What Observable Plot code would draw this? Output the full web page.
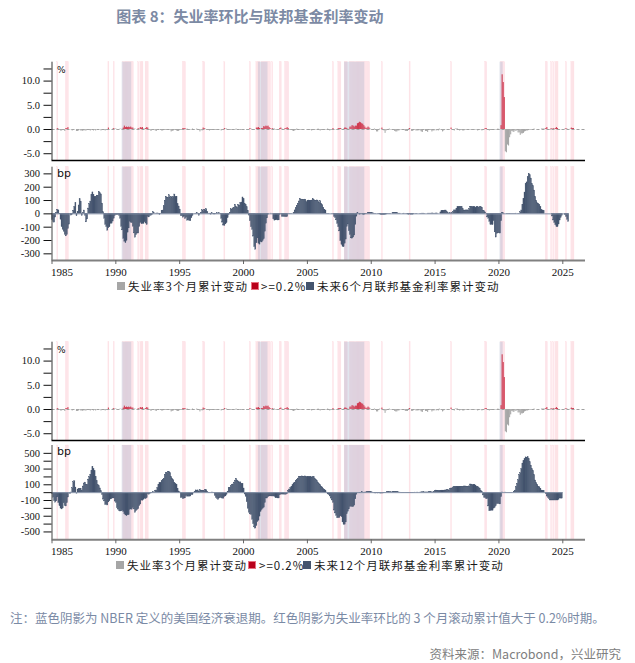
<!DOCTYPE html>
<html><head><meta charset="utf-8">
<script src="https://cdn.jsdelivr.net/npm/d3@7"></script>
<script src="https://cdn.jsdelivr.net/npm/@observablehq/plot@0.6"></script>
<style>
body{margin:0;background:#fff;}
#root{position:relative;width:635px;height:663px;overflow:hidden;font-family:"Noto Sans CJK SC","Noto Sans",sans-serif;background:#fff;}
#root svg{position:absolute;left:0;background:transparent;}
.title{position:absolute;left:0;width:500px;top:6px;line-height:20px;text-align:center;font-size:15px;font-weight:bold;color:#7c8aa4;}
.lg{position:absolute;font-size:11.5px;letter-spacing:1px;color:#1a1a1a;line-height:16px;white-space:nowrap;}
.sw{position:absolute;width:8px;height:8px;box-sizing:border-box;}
.note{position:absolute;left:10px;top:610px;line-height:16px;font-size:12.5px;color:#7a8aa5;white-space:nowrap;}
.src{position:absolute;right:14px;top:646px;line-height:16px;font-size:12.5px;color:#808080;white-space:nowrap;}
</style></head><body><div id="root"></div>
<script>
// ---------- data ----------
const startYear = 1985;
// unemployment rate, 3-month cumulative change (pp), monthly from Jan 1985
const ur3m = [
-0.1,0,-0.1,0,0,0.2,0.1,-0.1,-0.3,-0.3,-0.1,-0.1,
-0.4,0.2,0.2,0.4,0,0,-0.1,-0.3,-0.2,0,0,-0.4,
-0.4,-0.3,0,-0.3,-0.3,-0.4,-0.2,-0.3,-0.3,-0.1,-0.2,-0.2,
-0.3,-0.1,0,-0.3,-0.1,-0.3,0,0,0,0,-0.3,-0.1,
0,-0.1,-0.3,-0.2,0,0.3,0,0,0,0.1,0.2,0.1,
0.1,-0.1,-0.2,0,0.1,0,0.1,0.3,0.7,0.4,0.5,0.4,
0.5,0.4,0.5,0.3,0.3,0.1,0.1,0,0,0.2,0.1,0.4,
0.3,0.4,0.1,0.1,0.2,0.4,0.3,0,-0.2,-0.4,-0.2,-0.2,
0,-0.3,-0.4,-0.2,0,0,-0.2,-0.3,-0.3,-0.1,-0.2,-0.2,
-0.2,0,0,-0.2,-0.5,-0.4,-0.3,-0.1,-0.2,-0.3,-0.4,-0.4,
-0.2,-0.2,-0.1,0.2,0.2,0.2,-0.1,0.1,0,-0.2,-0.1,0,
0.1,-0.1,-0.1,0,0.1,-0.2,-0.1,-0.5,-0.1,-0.3,0.3,0.2,
0.1,-0.2,-0.2,-0.2,-0.3,-0.2,-0.2,-0.1,-0.1,-0.2,-0.2,-0.2,
-0.1,0,0,-0.3,-0.2,-0.2,0.2,0.1,0.1,0,-0.1,-0.2,
-0.2,0,-0.2,0,-0.2,0.1,0,0,-0.1,-0.2,-0.1,-0.2,
-0.1,0,0,-0.2,-0.1,0,0.2,0.1,-0.1,-0.1,-0.2,0,
0.3,0.3,0.4,0.2,0.1,0.2,0.2,0.6,0.5,0.7,0.6,0.7,
0.4,0.2,0,0.2,0.1,0.1,-0.1,-0.1,-0.1,-0.1,0.2,0.3,
0.1,0,-0.1,0.2,0.2,0.4,0.2,0,-0.2,-0.2,-0.3,-0.4,
-0.3,-0.2,0.1,-0.1,0,-0.2,-0.1,-0.2,-0.2,0,0,0,
-0.2,0,-0.2,-0.1,-0.3,-0.2,-0.2,-0.2,0,0,0.1,-0.1,
-0.3,-0.2,-0.2,0,-0.2,-0.1,0,0.1,-0.1,-0.3,-0.2,-0.1,
0.2,0,0,-0.1,-0.1,0.2,0.2,0.2,0.1,0,0.1,0.3,
0.3,0.2,0.1,0,0.5,0.5,0.8,0.7,0.5,0.7,0.7,1.2,
1.3,1.5,1.4,1.2,1.1,0.8,0.5,0.2,0.3,0.5,0.3,0.1,
-0.2,-0.1,0,0.1,-0.2,-0.5,-0.5,-0.1,0.1,0,0.3,-0.2,
-0.3,-0.8,-0.3,0,0,0.1,-0.1,0,-0.1,-0.2,-0.4,-0.5,
-0.5,-0.3,-0.3,-0.1,-0.1,0,0,-0.1,-0.4,-0.4,-0.4,0.1,
0.2,0,-0.4,-0.4,-0.2,0,-0.3,-0.3,-0.3,-0.1,-0.3,-0.5,
-0.6,-0.2,0,-0.4,-0.4,-0.6,0,-0.2,-0.2,-0.5,-0.3,-0.3,
0,-0.3,-0.2,-0.3,0.1,-0.1,-0.2,-0.5,-0.3,-0.2,0,0,
-0.2,-0.2,0,0.3,-0.1,-0.1,-0.3,0.1,0.1,0.1,-0.2,-0.3,
-0.2,-0.1,-0.3,-0.3,-0.2,-0.1,-0.1,0,0,-0.1,-0.2,-0.2,
-0.2,-0.1,-0.1,0,-0.3,0,-0.2,0,-0.3,0,0,0.2,
0.2,0,-0.1,-0.3,-0.2,-0.2,0,0,-0.1,-0.1,0,0.1,
-0.1,-0.1,0.8,11.3,9.7,6.6,-4.6,-4.8,-3.2,-3.4,-1.7,-1.1,
-0.4,-0.5,-0.6,-0.3,-0.4,-0.2,-0.7,-0.7,-1.2,-0.9,-0.9,-0.8,
-0.5,-0.4,-0.3,-0.3,-0.2,0,-0.2,0,-0.1,0.1,0,0,
-0.2,0,0,0,0.1,0.1,0.1,0.1,0.2,0.4,-0.1,0,
-0.2,0.2,0.1,0.2,0.1,0.2,0.4,0.2,0,-0.2,0,0,
-0.1,-0.1,0.1,0.2,0.1,-0.1,0,0.1,0.3,0.2,0.2,0
];
// fed funds rate, cumulative change over the next 6 months (bp), monthly from Jan 1985
const ff6m = [
-47,-60,-66,-28,8,30,26,-4,-44,-100,-120,-135,
-158,-169,-159,-114,-81,-1,-13,-7,24,52,81,-18,
15,63,109,92,-16,4,25,-15,-64,-42,40,74,
92,143,161,143,126,125,137,135,166,154,146,77,
12,-37,-83,-100,-126,-108,-101,-75,-74,-58,-37,-16,
-8,-11,-8,-15,-37,-98,-124,-188,-208,-220,-203,-141,
-109,-59,-67,-70,-97,-147,-179,-160,-147,-148,-99,-67,
-78,-76,-76,-63,-73,-84,-23,-27,-15,-14,-9,12,
4,0,2,3,2,-8,-1,22,25,57,99,129,
121,122,139,120,128,120,127,145,125,129,72,55,
32,-18,-18,-29,-21,-40,-29,-52,-49,-54,-56,-33,
-16,0,-1,2,7,2,-15,-3,9,27,19,27,
27,35,15,-1,2,-6,4,-3,-5,-5,-3,6,
-2,4,2,-38,-66,-88,-91,-79,-70,-33,-9,8,
36,31,41,46,68,54,46,66,63,82,85,123,
109,77,67,49,24,-13,-56,-101,-121,-171,-250,-270,
-221,-184,-224,-231,-212,-215,-204,-191,-134,-74,-34,-7,
0,0,2,0,-41,-51,-49,-48,-50,-49,-8,-2,
-23,-23,-24,-25,-26,-24,-1,-2,-1,-1,0,5,
26,42,61,76,93,113,102,107,102,103,107,88,
98,100,99,99,100,112,103,99,97,101,94,83,
95,76,66,46,31,25,1,1,1,0,0,1,
1,-24,-32,-49,-76,-101,-132,-204,-233,-248,-251,-224,
-193,-98,-80,-131,-159,-184,-186,-178,-163,-82,-21,5,
1,-6,-3,-3,-6,-9,-5,-3,1,8,8,6,
7,6,3,-1,-1,0,-1,-3,-5,-9,-10,-9,
-10,-6,-6,-3,-1,-2,1,0,5,7,8,9,
8,3,1,2,0,0,-2,2,0,-1,-5,-7,
-5,-7,-6,-6,-3,0,-2,-1,0,0,1,1,
2,2,1,0,0,2,2,2,2,3,3,1,
2,3,3,0,0,11,21,24,22,25,25,14,
5,2,4,3,4,16,26,26,39,50,50,50,
50,50,36,25,25,26,26,26,36,54,54,52,
50,49,44,50,50,45,49,49,46,23,19,11,
0,-27,-37,-59,-84,-83,-85,-55,-139,-178,-150,-147,
-146,-148,-56,4,4,1,0,-2,-2,-2,-3,-1,
1,1,1,1,2,0,-2,-1,12,25,69,113,
160,225,236,275,301,289,265,224,209,175,128,98,
79,76,68,50,27,25,21,0,0,0,0,0,
0,0,-20,-50,-69,-85,-100,-100,-80,-50,-31,-15,
0,0,-11,-24,-45,-61
];
// fed funds rate, cumulative change over the next 12 months (bp), monthly from Jan 1985
const ff12m = [
-21,-64,-110,-128,-112,-61,-132,-173,-203,-214,-201,-136,
-171,-176,-135,-62,0,-19,2,56,133,144,65,-14,
40,48,45,50,24,78,117,128,97,101,166,199,
229,278,327,297,272,202,149,98,83,54,20,-31,
-89,-112,-157,-158,-163,-124,-109,-86,-82,-73,-74,-114,
-132,-199,-216,-235,-240,-239,-233,-247,-275,-290,-300,-288,
-288,-219,-214,-218,-196,-214,-257,-236,-223,-211,-172,-151,
-101,-103,-91,-77,-82,-72,-19,-27,-13,-11,-7,4,
3,22,27,60,101,121,120,144,164,177,227,249,
248,267,264,249,200,175,159,127,107,100,51,15,
3,-70,-67,-83,-77,-73,-45,-52,-50,-52,-49,-31,
-31,-3,8,29,26,29,12,32,24,26,21,21,
31,32,10,-6,-1,0,2,1,-3,-43,-69,-82,
-93,-75,-68,-71,-75,-80,-55,-48,-29,13,59,62,
82,97,104,128,153,177,155,143,130,131,109,110,
53,-24,-54,-122,-206,-256,-277,-285,-345,-402,-442,-458,
-425,-375,-358,-305,-246,-222,-204,-191,-132,-74,-75,-58,
-49,-48,-48,-49,-49,-53,-72,-71,-74,-74,-34,-26,
-24,-25,-25,-26,-26,-19,25,40,60,75,93,118,
128,149,163,179,200,201,200,207,201,202,207,200,
201,199,196,200,194,195,198,175,163,147,125,108,
96,77,67,46,31,26,2,-23,-31,-49,-76,-100,
-131,-228,-265,-297,-327,-325,-325,-302,-313,-379,-410,-408,
-379,-276,-243,-213,-180,-179,-185,-184,-166,-85,-27,-4,
-4,-9,-2,5,2,-3,2,3,4,7,7,6,
6,3,-2,-10,-11,-9,-11,-9,-11,-12,-11,-11,
-9,-6,-1,4,7,7,9,3,6,9,8,9,
6,5,1,1,-5,-7,-7,-5,-6,-7,-8,-7,
-7,-8,-6,-6,-2,1,0,1,1,0,1,3,
4,4,3,3,3,3,4,5,5,3,3,12,
23,27,25,25,25,25,26,26,26,28,29,30,
31,28,43,53,54,66,76,76,75,75,75,76,
76,76,72,79,79,78,76,75,80,104,104,97,
99,98,90,73,69,56,49,22,9,-36,-65,-72,
-85,-82,-176,-237,-234,-230,-231,-203,-195,-174,-146,-146,
-146,-150,-58,2,1,0,1,-1,-1,-1,-1,-1,
-1,0,13,26,71,113,158,224,248,300,370,402,
425,449,445,450,429,387,344,300,277,225,155,123,
100,76,68,50,27,25,21,0,-20,-50,-69,-85,
-100,-100,-100,-100,-100,-100,-100,-100,-91,-74,-76,-76
];
// NBER recessions (first month, last month)
const recessions = [["1990-07","1991-03"],["2001-03","2001-11"],["2007-12","2009-06"],["2020-02","2020-04"]];
const yearTicks = [1985,1990,1995,2000,2005,2010,2015,2020,2025];
const urTicks = [-5,-2.5,0,2.5,5,7.5,10,12.5];
const ff6Ticks = [-300,-200,-100,0,100,200,300];
const ff12Ticks = [-500,-400,-300,-200,-100,0,100,200,300,400,500];
const redThreshold = 0.2;

// ---------- helpers ----------
const mdate = i => new Date(Date.UTC(startYear, i, 1));
const toRows = arr => arr.map((v, i) => ({d: mdate(i), d2: mdate(i + 1), v}));
const urData = toRows(ur3m), ff6Data = toRows(ff6m), ff12Data = toRows(ff12m);
const recData = recessions.map(([a, b]) => {
  const [ya, ma] = a.split("-").map(Number), [yb, mb] = b.split("-").map(Number);
  return {s: new Date(Date.UTC(ya, ma - 1, 1)), e: new Date(Date.UTC(yb, mb, 1))};
});
const yearDates = yearTicks.map(y => new Date(Date.UTC(y, 0, 1)));
const X0 = new Date(Date.UTC(1985, 0, 1)), X1 = new Date(Date.UTC(2026, 9, 12));
const W = 635, ML = 51.5, MR = 50;
const RED = "#d03a50", GRAY = "#a6a6a6", NAVY = "#44546e", PINK = "#fde2e6", REC = "#a3afc9";
const SERIF = "Liberation Serif, serif", SANS = "DejaVu Sans, sans-serif";
const root = document.getElementById("root");

function shading() {
  return [
    Plot.rect(urData.filter(d => d.v >= redThreshold), {x1: "d", x2: "d2", fill: PINK, stroke: PINK, strokeWidth: 0.3}),
    Plot.rect(recData, {x1: "s", x2: "e", fill: REC, fillOpacity: 0.32})
  ];
}

function topPanel(top) {
  const svg = Plot.plot({
    width: W, height: 112, marginLeft: ML, marginRight: MR, marginTop: 11.7, marginBottom: 2,
    x: {type: "utc", domain: [X0, X1], axis: null},
    y: {domain: [-6.4, 13.9], label: null},
    marks: [
      ...shading(),
      Plot.ruleY([0], {stroke: "#a0a0a0", strokeDasharray: "3,2"}),
      Plot.rect(urData, {x1: "d", x2: "d2", y1: () => 0, y2: "v", fill: d => d.v >= redThreshold ? RED : GRAY}),
      Plot.ruleX([X0], {stroke: "#333"}),
      Plot.ruleY([-6.4], {stroke: "#000", strokeWidth: 1.6}),
      Plot.axisY({ticks: urTicks, tickFormat: d => d % 5 === 0 ? d.toFixed(1) : "", tickSize: 8, tickPadding: 4,
        fontSize: 10.5, fontFamily: SERIF, label: null, color: "#111"}),
      Plot.text(["%"], {text: d => d, frameAnchor: "top-left", dx: 5, dy: 4, fontSize: 9, fontFamily: SANS, fill: "#111"})
    ]
  });
  svg.style.top = top + "px";
  root.appendChild(svg);
}

function bottomPanel(top, rows, domain, ticks, fmt, mt, mb) {
  const end = rows[rows.length - 1].d2;
  const plotH = 138 - mt - mb;
  const perPx = (domain[1] - domain[0]) / plotH;   // data units per pixel, for the short x ticks
  const yMin = domain[0];
  const svg = Plot.plot({
    width: W, height: 138, marginLeft: ML, marginRight: MR, marginTop: mt, marginBottom: mb,
    x: {type: "utc", domain: [X0, X1], axis: null},
    y: {domain, label: null},
    marks: [
      ...shading(),
      Plot.rect(rows, {x1: "d", x2: "d2", y1: () => 0, y2: "v", fill: NAVY, stroke: NAVY, strokeWidth: 0.3}),
      Plot.ruleY([{y: 0, x1: X0, x2: end}], {y: "y", x1: "x1", x2: "x2", stroke: "#8a95aa", strokeWidth: 1}),
      Plot.ruleX([X0], {stroke: "#444"}),
      Plot.ruleY([yMin], {stroke: "#808080", strokeWidth: 2}),
      Plot.axisY({ticks, tickFormat: fmt, tickSize: 8, tickPadding: 4, fontSize: 10.5, fontFamily: SERIF, label: null, color: "#111"}),
      Plot.ruleX(yearDates, {x: d => d, y1: () => yMin, y2: () => yMin - 4 * perPx, stroke: "#666"}),
      Plot.text(yearDates.slice(1), {x: d => d, y: () => yMin, dy: 12, text: d => String(d.getUTCFullYear()),
        fontSize: 11, fontFamily: SERIF, fill: "#111"}),
      Plot.text(yearDates.slice(0, 1), {x: d => d, y: () => yMin, dy: 12, dx: -1, textAnchor: "start",
        text: d => String(d.getUTCFullYear()), fontSize: 11, fontFamily: SERIF, fill: "#111"}),
      Plot.text(["bp"], {text: d => d, frameAnchor: "top-left", dx: 5, dy: 2, fontSize: 11, fontFamily: SANS, fill: "#111"})
    ]
  });
  svg.style.top = top + "px";
  root.appendChild(svg);
}

function legend(top, pos, lastLabel) {
  const items = [
    {sw: `background:${GRAY}`, text: "失业率3个月累计变动"},
    {sw: `background:#b8001a;border:1px solid #e8707f`, text: ">=0.2%"},
    {sw: `background:${NAVY}`, text: lastLabel}
  ];
  items.forEach((it, i) => {
    const s = document.createElement("div");
    s.className = "sw"; s.style.cssText += it.sw; s.style.left = pos[i][0] + "px"; s.style.top = (top - 4) + "px";
    root.appendChild(s);
    const t = document.createElement("div");
    t.className = "lg"; t.textContent = it.text; t.style.left = pos[i][1] + "px"; t.style.top = (top - 8) + "px";
    root.appendChild(t);
  });
}

// ---------- layout ----------
const title = document.createElement("div");
title.className = "title"; title.textContent = "图表 8：失业率环比与联邦基金利率变动";
root.appendChild(title);

topPanel(50);
bottomPanel(162, ff6Data, [-350, 350], ff6Ticks, d => String(d), 4.7, 40);
legend(286, [[117, 128], [251, 261], [306, 317]], "未来6个月联邦基金利率累计变动");

topPanel(330);
bottomPanel(441, ff12Data, [-600, 600], ff12Ticks, d => Math.abs(d) % 200 === 100 ? String(d) : "", 4, 39.7);
legend(565, [[116, 127], [248, 259], [303, 314]], "未来12个月联邦基金利率累计变动");

const note = document.createElement("div");
note.className = "note";
note.textContent = "注：蓝色阴影为 NBER 定义的美国经济衰退期。红色阴影为失业率环比的 3 个月滚动累计值大于 0.2%时期。";
root.appendChild(note);
const src = document.createElement("div");
src.className = "src"; src.textContent = "资料来源：Macrobond，兴业研究";
root.appendChild(src);
</script></body></html>
